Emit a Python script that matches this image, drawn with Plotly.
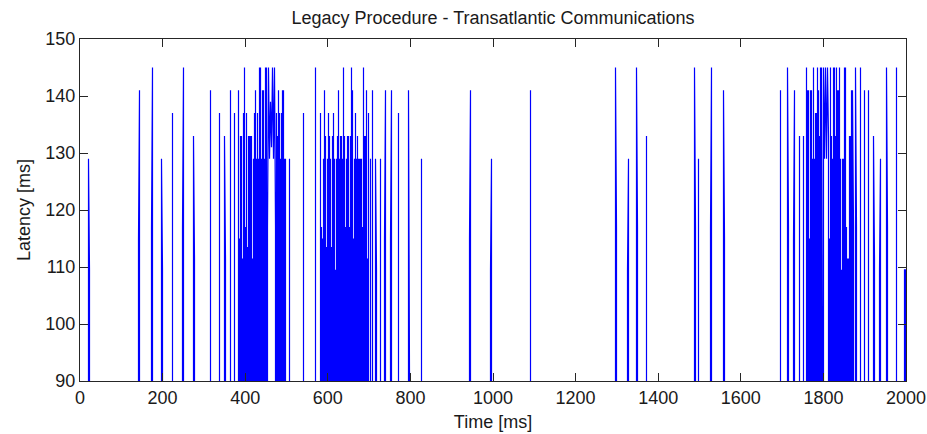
import plotly.graph_objects as go

# ---------------- data ----------------
# time span of the record and the sampling step of the latency samples (ms)
T_END = 2000
SAMPLE_DT = 2000 / 826
# floor value used between bursts (below the visible y range)
FLOOR_MS = 80

# isolated bursts: start time (ms) and consecutive latency samples (ms)
burst_start = [21, 142, 172.6, 196.8, 225, 249, 276, 315.4, 337, 350, 365.5, 375,
               453.4, 508, 541, 569.6, 702.7, 709, 715.5, 727, 736.6, 751, 770.5,
               795.5, 828, 942, 995, 1090, 1297.5, 1325, 1347, 1372.5, 1487.8, 1498,
               1526, 1558, 1695, 1712, 1727, 1742, 1751.6, 1794.5, 1799.4, 1870,
               1877.6, 1889, 1898.6, 1910, 1921, 1935, 1952.6, 1978, 1995.3]
burst_values = [
    [129, 109.5], [115, 141], [117, 145], [129, 109.5], [137], [117, 145],
    [133, 111.5], [141], [137], [133, 111.5], [141], [137],
    [117, 145, 129, 139, 131, 145, 129, 145, 117],
    [129], [137], [145], [129], [141], [129, 109.5], [129], [115, 141],
    [115, 141], [137], [141, 91.6], [129], [115, 141], [109.5, 129], [141],
    [145, 117], [109.5, 129], [145, 117], [133], [145, 117], [129],
    [117, 145], [141, 115], [141], [145, 117], [115, 141], [133], [133],
    [145, 91.6], [145, 129, 145, 129, 145, 133], [141, 117],
    [145, 117], [145], [141], [141], [133, 111.5], [109.5, 129], [145, 117],
    [145], [109.5, 109.5],
]

# dense clusters: start time (ms) and peak of each successive single spike
cluster_start = [383.2, 475.2, 581.7, 1758.2, 1813.9]
cluster_peaks = [
    [141, 115, 133, 133, 111.5, 137, 145, 117, 137, 113.5, 133, 133, 133, 133,
     111.5, 129, 137, 141, 129, 137, 129, 145, 145, 129, 141, 141, 129, 145, 145],
    [137, 133, 141, 137, 129, 137, 141, 141, 129, 129],
    [137, 117, 115, 129, 141, 133, 113.5, 129, 137, 133, 129, 113.5, 133, 137,
     129, 109.5, 129, 133, 141, 129, 133, 133, 129, 145, 133, 117, 129, 133,
     133, 117, 133, 145, 141, 115, 129, 137, 129, 133, 129, 129, 129, 129, 117,
     145, 133, 133, 141, 111.5, 137],
    [145, 141, 141, 115, 141, 141, 129, 145, 129, 137, 137, 145, 141, 133, 145],
    [115, 145, 133, 129, 145, 145, 133, 145, 141, 141, 145, 129, 109.5, 129, 129,
     145, 145, 117, 111.5, 111.5, 133, 133, 141],
]

# ---------------- build the line on the sampling grid ----------------
def on_grid(t):
    # sample instants sit at the middle of each sampling interval
    k = round(t / SAMPLE_DT - 0.5)
    return (k + 0.5) * SAMPLE_DT

bursts = [(on_grid(t), v) for t, v in zip(burst_start, burst_values)]
for cs, peaks in zip(cluster_start, cluster_peaks):
    g0 = on_grid(cs)
    for i, p in enumerate(peaks):
        bursts.append((g0 + i * SAMPLE_DT, [p]))
bursts.sort(key=lambda b: b[0])

xs, ys = [0], [FLOOR_MS]
for t0, vals in bursts:
    xs.append(t0)
    ys.append(FLOOR_MS)
    for i, v in enumerate(vals):
        xs.append(t0 + i * SAMPLE_DT)
        ys.append(v)
    xs.append(t0 + (len(vals) - 1) * SAMPLE_DT)
    ys.append(FLOOR_MS)
xs.append(T_END)
ys.append(FLOOR_MS)

FONT = "Liberation Sans, Arial, Helvetica, sans-serif"
TXT = "#1a1a1a"

fig = go.Figure()
fig.add_trace(go.Scatter(x=xs, y=ys, mode="lines",
                         line=dict(color="#0000ff", width=1.2, simplify=False),
                         hoverinfo="skip", showlegend=False))

axis_common = dict(showline=True, linecolor="#262626", linewidth=1, mirror="ticks",
                   ticks="inside", ticklen=8, tickcolor="#262626", tickwidth=1,
                   showgrid=False, zeroline=False, automargin=False,
                   tickfont=dict(family=FONT, size=18, color=TXT))

fig.update_xaxes(range=[0, T_END], dtick=200, tick0=0,
                 title=dict(text="Time [ms]", font=dict(family=FONT, size=18, color=TXT),
                            standoff=8),
                 **axis_common)
fig.update_yaxes(range=[90, 150], dtick=10, tick0=90,
                 title=dict(text="Latency [ms]", font=dict(family=FONT, size=18, color=TXT),
                            standoff=10),
                 **axis_common)

fig.update_layout(
    width=927, height=434,
    margin=dict(l=80, r=21, t=39, b=53, autoexpand=False),
    paper_bgcolor="white", plot_bgcolor="white",
    title=dict(text="Legacy Procedure - Transatlantic Communications",
               font=dict(family=FONT, size=18, color=TXT),
               x=0.5, xref="paper", xanchor="center",
               y=1 - 18 / 434, yref="container", yanchor="middle"),
)

fig.write_html("out.html")
